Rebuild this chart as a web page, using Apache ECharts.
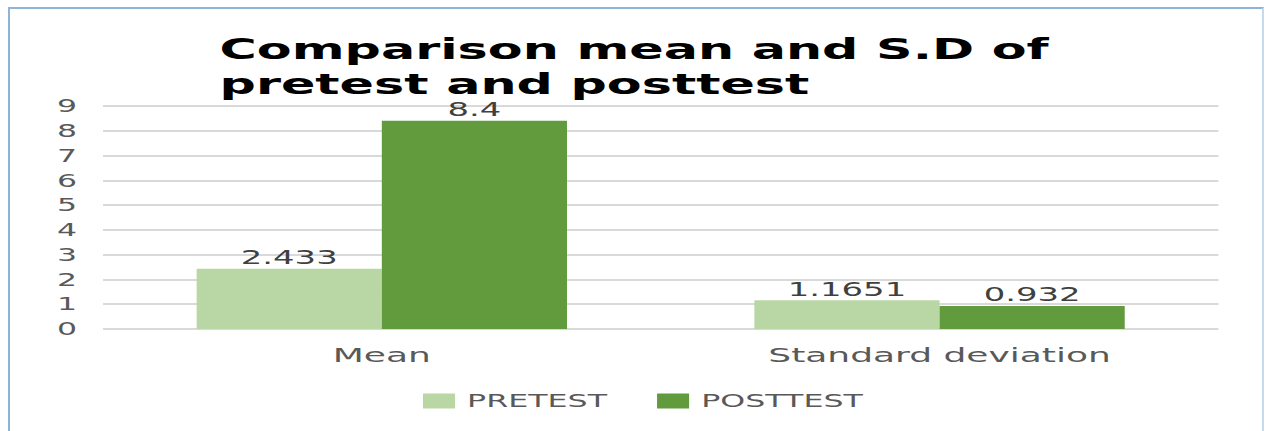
<!DOCTYPE html>
<html><head><meta charset="utf-8">
<script src="https://cdn.jsdelivr.net/npm/echarts@6/dist/echarts.min.js"></script>
<style>
html,body{margin:0;padding:0;background:#fff;overflow:hidden;}
#frame{position:absolute;left:8px;top:7px;width:1256px;height:430px;border-left:2px solid #8fb4d9;border-top:2px solid #8fb4d9;border-right:2px solid #c5daf0;box-sizing:border-box;}
#c{position:absolute;left:0;top:0;width:703px;height:431px;transform:scaleX(1.8);transform-origin:0 0;}
</style></head>
<body>
<div id="frame"></div>
<div id="c"></div>
<script>
const categories = ['Mean', 'Standard deviation'];
const seriesNames = ['PRETEST', 'POSTTEST'];
const pretest = [2.433, 1.1651];
const posttest = [8.4, 0.932];
const yTicks = [0, 1, 2, 3, 4, 5, 6, 7, 8, 9];

const chart = echarts.init(document.getElementById('c'), null, {renderer: 'svg'});
const font = 'DejaVu Sans';
const labelStyle = {show: true, position: 'top', distance: 4, fontFamily: font, fontSize: 18.8, lineHeight: 14, color: '#404040'};
chart.setOption({
  animation: false,
  backgroundColor: 'transparent',
  title: {
    text: 'Comparison mean and S.D of\npretest and posttest',
    left: 122, top: 32, padding: 0,
    textStyle: {fontFamily: font, fontWeight: 'bold', fontSize: 28.2, color: '#000', lineHeight: 35}
  },
  legend: {
    data: seriesNames,
    left: 235, top: 392, padding: 0,
    icon: 'rect',
    itemWidth: 17.8, itemHeight: 15, itemGap: 27.8,
    textStyle: {fontFamily: font, fontSize: 17.6, color: '#595959', padding: [0, 0, 0, 1.7]}
  },
  grid: {left: 57.2, right: 26.1, top: 106, bottom: 102, containLabel: false},
  xAxis: {
    type: 'category', data: categories,
    axisLine: {show: false}, axisTick: {show: false},
    axisLabel: {fontFamily: font, fontSize: 20, color: '#595959', margin: 16}
  },
  yAxis: {
    type: 'value', min: 0, max: 9, interval: 1,
    axisLabel: {fontFamily: font, fontSize: 17.5, color: '#595959', margin: 14.4,
      formatter: v => yTicks.includes(v) ? String(v) : ''},
    axisLine: {show: false}, axisTick: {show: false},
    splitLine: {lineStyle: {color: '#d9d9d9', width: 2}}
  },
  series: [
    {name: seriesNames[0], type: 'bar', data: pretest, barGap: '0%', barCategoryGap: '33.6%',
     itemStyle: {color: '#b9d7a5'}, label: labelStyle},
    {name: seriesNames[1], type: 'bar', data: posttest,
     itemStyle: {color: '#629a3e'}, label: labelStyle}
  ]
});
</script>
</body></html>
